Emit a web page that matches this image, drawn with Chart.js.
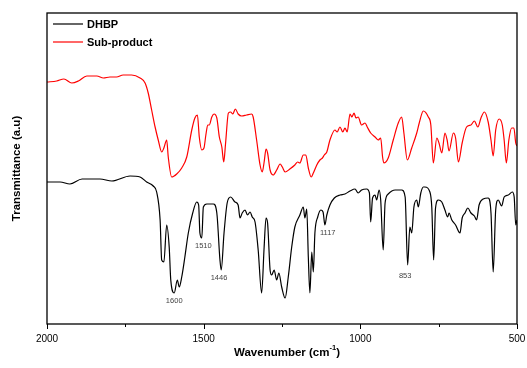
<!DOCTYPE html>
<html>
<head>
<meta charset="utf-8">
<script src="https://cdn.jsdelivr.net/npm/chart.js@4"></script>
<style>
  html, body { margin: 0; padding: 0; background: #fff; }
  #wrap { width: 527px; height: 368px; position: relative; }
</style>
</head>
<body>
<div id="wrap"><canvas id="chartIR"></canvas></div>
<script>
// DHBP spectrum (wavenumber in cm-1, transmittance in a.u.)
const dhbpWn = [2000, 1958, 1927, 1888, 1831, 1793, 1735, 1703, 1682, 1661, 1650, 1639, 1634, 1627, 1618, 1610, 1605, 1594, 1584, 1578, 1570, 1560, 1549, 1535, 1522, 1516, 1512, 1506, 1501, 1490, 1469, 1458, 1448, 1444, 1435, 1425, 1414, 1400, 1390, 1384, 1377, 1368, 1360, 1352, 1345, 1336, 1326, 1315, 1307, 1301, 1296, 1288, 1283, 1275, 1267, 1260, 1251, 1240, 1230, 1219, 1209, 1193, 1182, 1177, 1171, 1166, 1161, 1155, 1150, 1145, 1136, 1126, 1119, 1113, 1107, 1097, 1083, 1065, 1049, 1033, 1017, 1007, 996, 980, 971, 967, 961, 953, 948, 940, 935, 927, 921, 911, 889, 868, 857, 849, 842, 836, 829, 820, 815, 807, 799, 794, 778, 772, 766, 760, 751, 740, 730, 721, 717, 708, 696, 682, 675, 666, 657, 647, 636, 629, 621, 608, 592, 583, 576, 568, 560, 549, 541, 528, 515, 509, 504, 500];
const dhbpT = [142, 142, 140, 145, 145, 143, 148, 147, 142, 138, 132, 104, 64, 62, 99, 77, 44, 31, 44, 37, 47, 67, 91, 111, 122, 119, 91, 86, 117, 120, 120, 111, 64, 54, 91, 121, 127, 122, 119, 106, 111, 114, 109, 112, 107, 102, 74, 31, 77, 106, 101, 54, 49, 54, 44, 51, 37, 26, 47, 77, 97, 109, 117, 106, 115, 67, 31, 72, 52, 91, 107, 114, 112, 99, 109, 119, 126, 129, 130, 133, 135, 131, 134, 135, 131, 102, 126, 129, 124, 134, 124, 74, 121, 130, 134, 134, 127, 59, 97, 91, 117, 124, 117, 131, 137, 137, 132, 117, 64, 116, 124, 122, 114, 107, 111, 104, 99, 91, 106, 111, 116, 111, 108, 104, 119, 125, 126, 111, 52, 114, 124, 118, 127, 129, 132, 127, 99, 104];

// Sub-product spectrum
const subWn = [2000, 1969, 1946, 1921, 1900, 1873, 1841, 1820, 1799, 1778, 1757, 1730, 1703, 1687, 1677, 1666, 1655, 1645, 1634, 1627, 1618, 1613, 1602, 1586, 1570, 1554, 1538, 1528, 1520, 1514, 1506, 1499, 1493, 1487, 1482, 1474, 1467, 1458, 1450, 1442, 1436, 1430, 1421, 1414, 1407, 1399, 1390, 1379, 1363, 1347, 1342, 1331, 1320, 1313, 1307, 1301, 1296, 1288, 1278, 1267, 1256, 1249, 1240, 1225, 1209, 1200, 1193, 1182, 1174, 1166, 1157, 1150, 1139, 1129, 1121, 1115, 1107, 1097, 1081, 1074, 1065, 1056, 1049, 1042, 1033, 1027, 1020, 1014, 1007, 996, 985, 978, 967, 953, 943, 935, 929, 925, 911, 895, 879, 868, 861, 850, 836, 820, 812, 799, 783, 775, 767, 756, 749, 740, 730, 723, 717, 703, 696, 687, 675, 661, 647, 636, 625, 615, 604, 592, 583, 576, 568, 557, 547, 541, 534, 526, 517, 510, 504, 500];
const subT = [242, 243, 245, 241, 243, 248, 248, 246, 247, 247, 249, 249, 246, 241, 231, 214, 197, 184, 172, 176, 184, 167, 147, 150, 156, 167, 194, 206, 209, 187, 174, 176, 189, 199, 199, 207, 210, 206, 187, 177, 162, 181, 211, 212, 210, 215, 210, 208, 209, 210, 207, 184, 159, 152, 162, 175, 171, 154, 149, 154, 160, 157, 152, 155, 159, 162, 161, 169, 169, 156, 147, 151, 159, 164, 166, 169, 172, 184, 194, 192, 197, 192, 196, 192, 210, 207, 211, 206, 207, 199, 201, 197, 191, 187, 184, 186, 167, 161, 166, 184, 201, 207, 191, 164, 176, 191, 201, 213, 207, 199, 161, 186, 181, 171, 191, 184, 173, 191, 186, 162, 181, 197, 199, 203, 197, 206, 212, 202, 184, 168, 194, 205, 199, 184, 161, 184, 196, 196, 181, 178];

const seriesNames = ['DHBP', 'Sub-product'];
const seriesColors = ['#000000', '#ff0000'];

// peak labels: text, wavenumber and transmittance where the text sits
const peakLabels = ['1600', '1510', '1446', '1117', '853'];
const peakLabelWn = [1594, 1501, 1451, 1104, 857];
const peakLabelT = [23, 78, 46, 91, 48];

const xTicks = [2000, 1500, 1000, 500];
const xMinorTicks = [1750, 1250, 750];

const FONT = '"Liberation Sans", Arial, sans-serif';

const toPoints = (xs, ys) => xs.map((x, i) => ({ x, y: ys[i] }));

const decorations = {
  id: 'decorations',
  afterDraw(chart) {
    const { ctx, chartArea: a, scales } = chart;
    const xs = scales.x, ys = scales.y;
    ctx.save();

    // frame
    ctx.strokeStyle = '#000';
    ctx.lineWidth = 1.3;
    ctx.strokeRect(a.left, a.top, a.right - a.left, a.bottom - a.top);

    // ticks
    ctx.lineWidth = 1;
    ctx.beginPath();
    xTicks.forEach((v) => {
      const px = Math.round(xs.getPixelForValue(v)) + 0.5;
      ctx.moveTo(px, a.bottom);
      ctx.lineTo(px, a.bottom + 5);
    });
    xMinorTicks.forEach((v) => {
      const px = Math.round(xs.getPixelForValue(v)) + 0.5;
      ctx.moveTo(px, a.bottom);
      ctx.lineTo(px, a.bottom + 3);
    });
    ctx.stroke();

    // peak labels
    ctx.fillStyle = '#444';
    ctx.font = '7.5px ' + FONT;
    ctx.textAlign = 'center';
    ctx.textBaseline = 'middle';
    peakLabels.forEach((t, i) => {
      ctx.fillText(t, xs.getPixelForValue(peakLabelWn[i]), ys.getPixelForValue(peakLabelT[i]));
    });

    // legend
    ctx.textAlign = 'left';
    ctx.font = 'bold 11px ' + FONT;
    seriesNames.forEach((name, i) => {
      const y = a.top + 11 + i * 18;
      ctx.strokeStyle = seriesColors[i];
      ctx.lineWidth = 1.2;
      ctx.beginPath();
      ctx.moveTo(a.left + 6, y);
      ctx.lineTo(a.left + 36, y);
      ctx.stroke();
      ctx.fillStyle = '#000';
      ctx.fillText(name, a.left + 40, y + 0.5);
    });

    // x title with superscript
    const cx = (a.left + a.right) / 2 + 5;
    const ty = 353;
    ctx.font = 'bold 11.5px ' + FONT;
    const main = 'Wavenumber (cm';
    const sup = '-1';
    const tail = ')';
    const wMain = ctx.measureText(main).width;
    const wTail = ctx.measureText(tail).width;
    ctx.font = 'bold 7.5px ' + FONT;
    const wSup = ctx.measureText(sup).width;
    let x0 = cx - (wMain + wSup + wTail) / 2;
    ctx.fillStyle = '#000';
    ctx.font = 'bold 11.5px ' + FONT;
    ctx.fillText(main, x0, ty);
    ctx.font = 'bold 7.5px ' + FONT;
    ctx.fillText(sup, x0 + wMain, ty - 5);
    ctx.font = 'bold 11.5px ' + FONT;
    ctx.fillText(tail, x0 + wMain + wSup, ty);

    ctx.restore();
  },
};

new Chart(document.getElementById('chartIR'), {
  type: 'line',
  data: {
    datasets: [
      {
        label: seriesNames[0],
        data: toPoints(dhbpWn, dhbpT),
        borderColor: seriesColors[0],
        borderWidth: 1.2,
        pointRadius: 0,
        cubicInterpolationMode: 'monotone',
      },
      {
        label: seriesNames[1],
        data: toPoints(subWn, subT),
        borderColor: seriesColors[1],
        borderWidth: 1.2,
        pointRadius: 0,
        cubicInterpolationMode: 'monotone',
      },
    ],
  },
  options: {
    responsive: true,
    maintainAspectRatio: false,
    animation: false,
    layout: { padding: { top: 13, right: 10, left: 0, bottom: 0 } },
    plugins: {
      legend: { display: false },
      tooltip: { enabled: false },
    },
    scales: {
      x: {
        type: 'linear',
        reverse: true,
        min: 500,
        max: 2000,
        afterBuildTicks: (s) => { s.ticks = xTicks.map((v) => ({ value: v })); },
        afterFit: (s) => { s.height = 44; s.paddingLeft = 0; s.paddingRight = 0; },
        grid: { display: false, drawTicks: false },
        border: { display: false },
        ticks: {
          color: '#000',
          font: { family: FONT, size: 10 },
          padding: 9,
          maxRotation: 0,
          autoSkip: false,
          callback: (v) => String(v),
        },
      },
      y: {
        min: 0,
        max: 311,
        afterFit: (s) => { s.width = 47; },
        grid: { display: false, drawTicks: false },
        border: { display: false },
        ticks: { display: false },
        title: {
          display: true,
          text: 'Transmittance (a.u)',
          color: '#000',
          font: { family: FONT, size: 11.5, weight: 'bold' },
          padding: { top: 10, bottom: 0 },
        },
      },
    },
  },
  plugins: [decorations],
});
</script>
</body>
</html>
